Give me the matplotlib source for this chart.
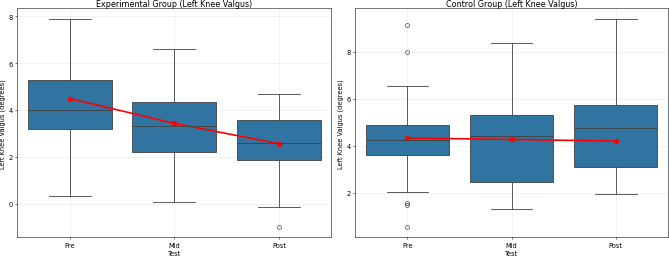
import numpy as np
import matplotlib
matplotlib.use("Agg")
import matplotlib.pyplot as plt

tests = ["Pre", "Mid", "Post"]

# Experimental group box statistics
exp_whislo = [0.33, 0.07, -0.14]
exp_q1 = [3.20, 2.21, 1.88]
exp_med = [3.99, 3.32, 2.61]
exp_q3 = [5.27, 4.35, 3.56]
exp_whishi = [7.90, 6.60, 4.70]
exp_fliers = [[], [], [-0.99]]
exp_mean = [4.49, 3.43, 2.56]

# Control group box statistics
ctl_whislo = [2.03, 1.28, 1.92]
ctl_q1 = [3.59, 2.47, 3.10]
ctl_med = [4.23, 4.42, 4.76]
ctl_q3 = [4.87, 5.33, 5.75]
ctl_whishi = [6.55, 8.38, 9.42]
ctl_fliers = [[9.14, 8.02, 1.57, 1.46, 0.54], [], []]
ctl_mean = [4.33, 4.27, 4.20]

box_color = "#3274a1"
edge = "#3f3f3f"


def make_stats(whislo, q1, med, q3, whishi, fliers):
    return [dict(whislo=a, q1=b, med=c, q3=d, whishi=e, fliers=f)
            for a, b, c, d, e, f in zip(whislo, q1, med, q3, whishi, fliers)]


def draw(ax, stats, means, title):
    pos = np.arange(len(tests))
    ax.bxp(stats, positions=pos, widths=0.8, patch_artist=True,
           showfliers=True, manage_ticks=False,
           boxprops=dict(facecolor=box_color, edgecolor=edge, linewidth=1.25),
           medianprops=dict(color=edge, linewidth=1.25),
           whiskerprops=dict(color=edge, linewidth=1.25),
           capprops=dict(color=edge, linewidth=1.25),
           flierprops=dict(marker="o", markerfacecolor="none",
                           markeredgecolor=edge, markersize=6))
    ax.plot(pos, means, color="red", marker="o", linewidth=2.5, markersize=7)
    ax.set_xticks(pos)
    ax.set_xticklabels(tests)
    ax.set_xlim(-0.5, len(tests) - 0.5)
    ax.set_title(title, pad=2)
    ax.set_xlabel("Test")
    ax.set_ylabel("Left Knee Valgus (degrees)")
    ax.grid(True, alpha=0.3)
    ax.set_axisbelow(True)


fig = plt.figure(figsize=(14, 5.375), dpi=47.8)
ax1 = fig.add_axes([0.026, 0.073, 0.469, 0.891])
ax2 = fig.add_axes([0.531, 0.073, 0.467, 0.891])

draw(ax1, make_stats(exp_whislo, exp_q1, exp_med, exp_q3, exp_whishi, exp_fliers),
     exp_mean, "Experimental Group (Left Knee Valgus)")
draw(ax2, make_stats(ctl_whislo, ctl_q1, ctl_med, ctl_q3, ctl_whishi, ctl_fliers),
     ctl_mean, "Control Group (Left Knee Valgus)")

fig.savefig("out.png", dpi=47.8)
